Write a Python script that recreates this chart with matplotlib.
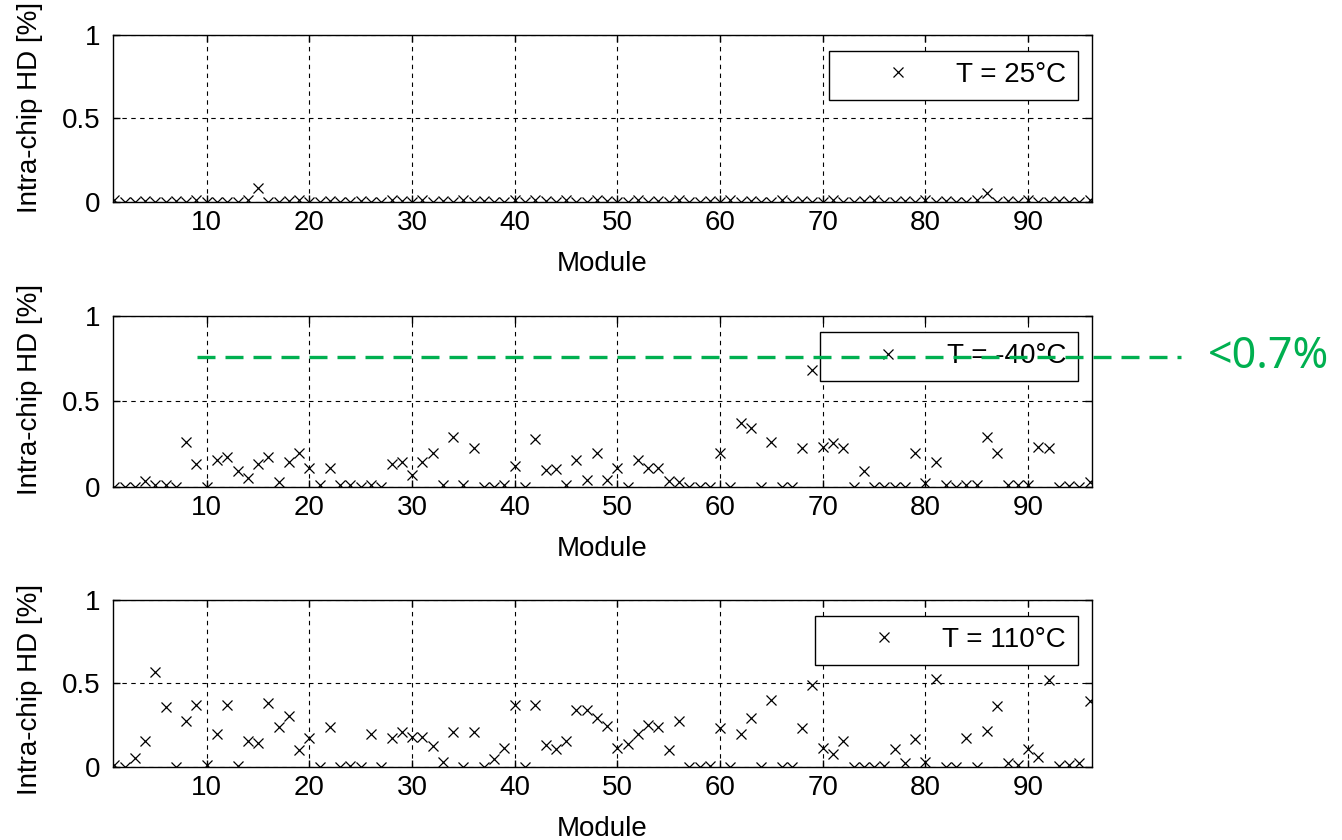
import matplotlib
matplotlib.use("Agg")
import matplotlib.pyplot as plt
import numpy as np

plt.rcParams['font.family'] = ['Liberation Sans', 'DejaVu Sans']

# ---------------- data ----------------
modules = list(range(1, 97))

hd_25C = [0.01, 0.00, 0.00, 0.005, 0.00, 0.00, 0.005, 0.00, 0.01, 0.00,
          0.00, 0.00, 0.00, 0.01, 0.08, 0.00, 0.00, 0.005, 0.01, 0.00,
          0.00, 0.005, 0.00, 0.00, 0.005, 0.00, 0.00, 0.01, 0.005, 0.00,
          0.01, 0.00, 0.005, 0.00, 0.01, 0.00, 0.005, 0.00, 0.00, 0.01,
          0.00, 0.01, 0.005, 0.00, 0.01, 0.00, 0.00, 0.01, 0.005, 0.00,
          0.00, 0.01, 0.00, 0.005, 0.00, 0.01, 0.00, 0.00, 0.005, 0.00,
          0.01, 0.00, 0.005, 0.00, 0.00, 0.01, 0.00, 0.005, 0.00, 0.00,
          0.01, 0.00, 0.00, 0.005, 0.01, 0.00, 0.00, 0.005, 0.00, 0.01,
          0.00, 0.005, 0.00, 0.00, 0.01, 0.055, 0.00, 0.005, 0.00, 0.01,
          0.00, 0.00, 0.005, 0.00, 0.00, 0.01]

hd_m40C = [0.00, 0.00, 0.00, 0.033, 0.01, 0.01, 0.00, 0.263, 0.133, 0.00,
           0.156, 0.175, 0.092, 0.049, 0.133, 0.172, 0.03, 0.146, 0.195, 0.107,
           0.01, 0.107, 0.01, 0.01, 0.00, 0.01, 0.00, 0.131, 0.142, 0.068,
           0.142, 0.195, 0.01, 0.29, 0.01, 0.224, 0.00, 0.00, 0.01, 0.123,
           0.00, 0.277, 0.098, 0.101, 0.01, 0.156, 0.039, 0.195, 0.039, 0.107,
           0.00, 0.156, 0.107, 0.107, 0.033, 0.03, 0.00, 0.00, 0.00, 0.195,
           0.00, 0.37, 0.341, 0.00, 0.263, 0.00, 0.00, 0.224, 0.682, 0.234,
           0.254, 0.224, 0.00, 0.092, 0.00, 0.00, 0.00, 0.00, 0.195, 0.02,
           0.142, 0.01, 0.00, 0.01, 0.01, 0.29, 0.195, 0.01, 0.01, 0.01,
           0.234, 0.224, 0.00, 0.005, 0.00, 0.03]

hd_110C = [0.01, 0.00, 0.05, 0.154, 0.57, 0.356, 0.00, 0.276, 0.37, 0.01,
           0.196, 0.37, 0.005, 0.156, 0.14, 0.384, 0.236, 0.304, 0.10, 0.17,
           0.00, 0.236, 0.00, 0.005, 0.00, 0.194, 0.00, 0.174, 0.21, 0.18,
           0.18, 0.124, 0.03, 0.21, 0.00, 0.21, 0.00, 0.046, 0.114, 0.37,
           0.00, 0.37, 0.13, 0.106, 0.154, 0.34, 0.34, 0.29, 0.246, 0.11,
           0.134, 0.196, 0.25, 0.236, 0.10, 0.276, 0.00, 0.00, 0.005, 0.23,
           0.00, 0.194, 0.29, 0.00, 0.40, 0.00, 0.00, 0.234, 0.49, 0.11,
           0.074, 0.154, 0.00, 0.00, 0.00, 0.005, 0.104, 0.02, 0.166, 0.03,
           0.526, 0.00, 0.00, 0.174, 0.00, 0.216, 0.366, 0.02, 0.01, 0.104,
           0.06, 0.52, 0.005, 0.01, 0.02, 0.396]

legend_labels = ["T = 25\u00b0C", "T = -40\u00b0C", "T = 110\u00b0C"]
series = [hd_25C, hd_m40C, hd_110C]

xticks = [10, 20, 30, 40, 50, 60, 70, 80, 90]
yticks = [0, 0.5, 1]
ytick_labels = ["0", "0.5", "1"]

threshold_y = 0.76
threshold_x = (9.03, 104.9)
threshold_label = "<0.7%"
threshold_label_x = 107.5

# ---------------- layout ----------------
W, H = 1342, 840
fig = plt.figure(figsize=(W / 100, H / 100), dpi=100)

left = 113.3 / W
width = 978.4 / W
panels = [(201.7, 166.7), (486.7, 171.0), (766.7, 166.7)]  # (bottom px, height px)
ylabel_y = [0.565, 0.571, 0.466]

FS = 20
axes = []
for i, (bpx, hpx) in enumerate(panels):
    ax = fig.add_axes([left, 1 - bpx / H, width, hpx / H])
    ax.plot(modules, series[i], linestyle='none', marker='x', color='black',
            markersize=7.5, markeredgewidth=0.9, label=legend_labels[i], zorder=3)
    ax.set_xlim(0.9, 96.2)
    ax.set_ylim(0, 1)
    ax.set_xticks(xticks)
    ax.set_xticklabels([str(t) for t in xticks])
    ax.set_yticks(yticks)
    ax.set_yticklabels(ytick_labels)
    ax.tick_params(direction='in', length=5, width=1, top=True, right=True,
                   labelsize=FS, colors='black')
    ax.tick_params(axis='x', pad=6)
    ax.tick_params(axis='y', pad=9)
    ax.grid(True, color='black', linestyle=(0, (4, 4)), linewidth=0.8)
    ax.set_axisbelow(False)
    for sp in ax.spines.values():
        sp.set_linewidth(1.0)
        sp.set_color('black')
    ax.set_xlabel("Module", fontsize=FS, labelpad=11)
    ax.set_ylabel("Intra-chip HD [%]", fontsize=FS)
    ax.yaxis.set_label_coords(-0.072, ylabel_y[i])
    leg = ax.legend(loc='upper right', bbox_to_anchor=(0.9857, 0.907),
                    borderaxespad=0, fontsize=FS, numpoints=1,
                    handlelength=4.1, handletextpad=0.05, borderpad=0.42,
                    fancybox=False, framealpha=1, edgecolor='black')
    leg.get_frame().set_linewidth(1.0)
    axes.append(ax)

# threshold annotation on the -40 C panel
ax2 = axes[1]
ax2.plot(threshold_x, [threshold_y, threshold_y], color='#00B050', linewidth=2.4,
         dashes=(5.4, 3.0), clip_on=False, zorder=10)
ax2.text(threshold_label_x, threshold_y, threshold_label, color='#00B050',
         fontsize=31, family=['Noto Sans', 'DejaVu Sans'], ha='left', va='center',
         clip_on=False, zorder=10)

fig.savefig("out.png", dpi=100)
